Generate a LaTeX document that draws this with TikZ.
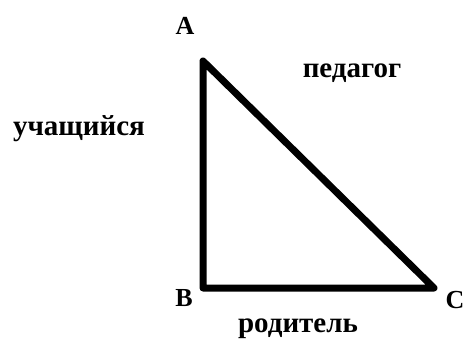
\documentclass[tikz,border=0pt]{standalone}
\usepackage{fontspec}
\setmainfont{Liberation Serif}
\tikzset{
  lbl/.style={font=\fontsize{29}{32}\selectfont\bfseries, inner sep=0pt},
  vlbl/.style={font=\fontsize{26}{30}\selectfont\bfseries, inner sep=0pt},
  side/.style={line width=7pt, line join=round, line cap=round}
}
\begin{document}
\begin{tikzpicture}[x=1pt,y=-1pt]
\useasboundingbox (0,0) rectangle (467,340);
\coordinate (A) at (203,61);
\coordinate (B) at (203,288);
\coordinate (C) at (434,288);
\draw[side] (A) -- (B) -- (C) -- cycle;
\node[vlbl] (la) at (185,26) {A};
\node[vlbl] (lb) at (184,298) {B};
\node[vlbl] (lc) at (455,300) {C};
\node[lbl] (ped) at (352,73) {педагог};
\node[lbl] (uch) at (79,129) {учащийся};
\node[lbl] (rod) at (298,329) {родитель};
\end{tikzpicture}
\end{document}
